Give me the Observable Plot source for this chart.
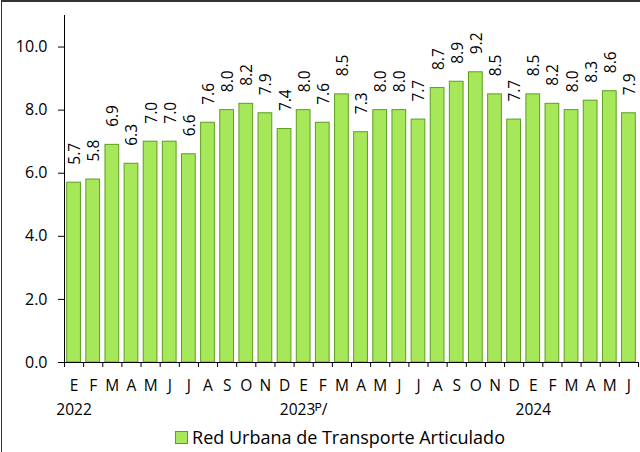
<!DOCTYPE html>
<html><head><meta charset="utf-8">
<script src="https://cdn.jsdelivr.net/npm/d3@7"></script>
<script src="https://cdn.jsdelivr.net/npm/@observablehq/plot@0.6"></script>
<style>
html,body{margin:0;padding:0;background:#fff;overflow:hidden;}
#wrap{position:relative;width:640px;height:452px;font-family:"Open Sans",sans-serif;color:#000;}
#frame{position:absolute;left:1px;top:0;width:700px;height:600px;border-left:1px solid #333;border-top:2px solid #333;pointer-events:none;}
#legend{position:absolute;left:0;width:640px;top:424px;text-align:center;font-size:18px;line-height:26px;padding-left:40px;box-sizing:border-box;white-space:nowrap;}
#legend .sw{display:inline-block;width:11px;height:11px;background:#a6e85a;border:1px solid #5c9e1e;margin-right:4px;vertical-align:0px;}
</style></head><body>
<div id="wrap"><div id="chart"></div><div id="legend"><span class="sw"></span><span id="lt"></span></div><div id="frame"></div></div>
<script>
const months = ["E","F","M","A","M","J","J","A","S","O","N","D",
                "E","F","M","A","M","J","J","A","S","O","N","D",
                "E","F","M","A","M","J"];
const values = [5.7,5.8,6.9,6.3,7.0,7.0,6.6,7.6,8.0,8.2,7.9,7.4,
                8.0,7.6,8.5,7.3,8.0,8.0,7.7,8.7,8.9,9.2,8.5,7.7,
                8.5,8.2,8.0,8.3,8.6,7.9];
const yearLabels = ["2022","2023ᴾ/","2024"];
const yearStartIndex = [0,12,24];
const yTicks = [0,2,4,6,8,10];
const seriesName = "Red Urbana de Transporte Articulado";

document.getElementById("lt").textContent = seriesName;
const data = values.map((v,i)=>({i, v, m: months[i]}));
const years = yearLabels.map((y,k)=>({i: yearStartIndex[k], y}));
const fill = "#a6e85a", stroke = "#5c9e1e";
const fmt = d3.format(".1f");

const chart = Plot.plot({
  width: 640, height: 420,
  marginLeft: 64, marginRight: 2, marginTop: 15, marginBottom: 58,
  style: {fontFamily: "'Open Sans', sans-serif", fontSize: "15px", color: "#000", background: "transparent"},
  x: {domain: [0, months.length], axis: null},
  y: {domain: [0, 11], axis: null},
  marks: [
    Plot.rectY(data, {x1: "i", x2: d => d.i + 1, y: "v", fill, stroke, strokeWidth: 1, insetLeft: 2.7, insetRight: 2.7}),
    Plot.ruleY([0], {stroke: "#000", strokeWidth: 1}),
    Plot.ruleX([0], {y1: 0, y2: 11, stroke: "#000", strokeWidth: 1}),
    Plot.axisY({ticks: yTicks, tickFormat: fmt, tickSize: 6, tickPadding: 11, fontSize: 16, label: null, stroke: "#000"}),
    Plot.axisX({ticks: d3.range(months.length + 1), tickFormat: () => "", tickSize: 5, label: null, stroke: "#000"}),
    Plot.text(data, {x: d => d.i + 0.5, y: 0, text: "m", dy: 24, fontSize: 15.5, fill: "#000"}),
    Plot.text(years, {x: d => d.i + 0.5, y: 0, text: "y", dy: 48, fontSize: 15.5, fill: "#000"}),
    Plot.text(data, {x: d => d.i + 0.5, y: "v", text: d => fmt(d.v), rotate: -90, textAnchor: "start", dy: -18, dx: 1, fontSize: 15.5, fill: "#000"})
  ]
});
document.getElementById("chart").appendChild(chart);
</script>
</body></html>
